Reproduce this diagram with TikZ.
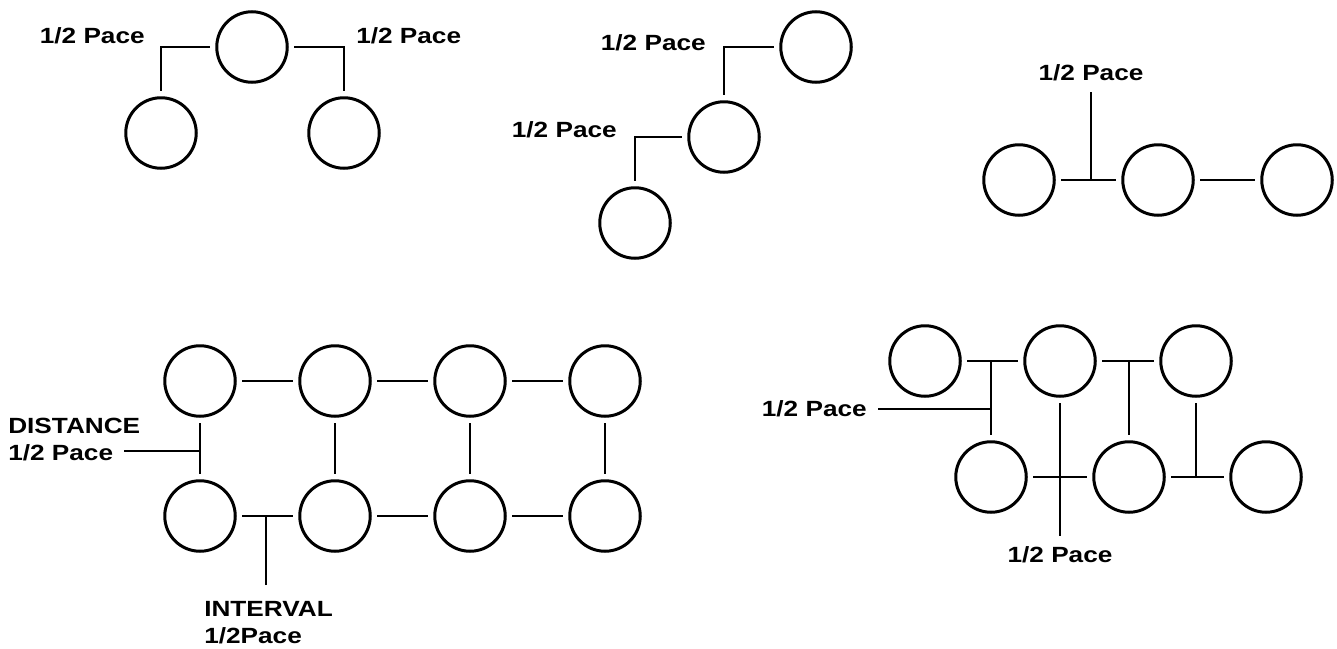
\documentclass[tikz,border=0pt]{standalone}
\usepackage{fontspec}
\newfontfamily\pacefont{Liberation Sans}[FakeStretch=1.19]
\usetikzlibrary{positioning,calc}
\tikzset{
  marcher/.style={circle,draw,line width=3pt,minimum size=70.5pt,inner sep=0pt,outer sep=7pt},
  pace/.style={font=\pacefont\bfseries\fontsize{22}{27}\selectfont,inner sep=0pt,align=left},
}

\begin{document}
\begin{tikzpicture}[x=1pt,y=-1pt,line width=2.6pt]
\useasboundingbox (0,0) rectangle (1337,648);

\node[marcher] (a1) at (252,47) {};
\node[marcher] (a2) at (161,133) {};
\node[marcher] (a3) at (344,133) {};
\draw (a1) -| (a2);
\draw (a1) -| (a3);
\node[pace,anchor=east] at (146,36) {1/2 Pace};
\node[pace,anchor=west] at (355,36) {1/2 Pace};

\node[marcher] (b1) at (816,47) {};
\node[marcher] (b2) at (724,137) {};
\node[marcher] (b3) at (635,223) {};
\draw (b1) -| (b2);
\draw (b2) -| (b3);
\node[pace,anchor=east] at (707,43) {1/2 Pace};
\node[pace,anchor=east] at (618,130) {1/2 Pace};

\node[marcher] (c1) at (1019,180) {};
\node[marcher] (c2) at (1158,180) {};
\node[marcher] (c3) at (1297,180) {};
\draw (c1) -- (c2);
\draw (c2) -- (c3);
\node[pace] (c0) at (1091,73) {1/2 Pace};
\draw[shorten <=10pt] (c0) -- (c0 |- c1);

\foreach \i/\x in {1/200,2/335,3/470,4/605}{
  \node[marcher] (d\i) at (\x,381) {};
  \node[marcher] (e\i) at (\x,516) {};
  \draw (d\i) -- (e\i);
}
\foreach \i/\j in {1/2,2/3,3/4}{
  \draw (d\i) -- (d\j);
  \draw (e\i) -- (e\j);
}
\node[pace,anchor=west] at (7,440) {DISTANCE\\1/2 Pace};
\coordinate (dd) at (124,451);
\draw (dd) -- (dd -| d1);
\node[pace,anchor=west] at (203,623) {INTERVAL\\1/2Pace};
\coordinate (ee) at (266,585);
\draw (ee) -- (ee |- e1);

\node[marcher] (f1) at (925,361) {};
\node[marcher] (f2) at (1060,361) {};
\node[marcher] (f3) at (1196,361) {};
\node[marcher] (g1) at (991,477) {};
\node[marcher] (g2) at (1129,477) {};
\node[marcher] (g3) at (1266,477) {};
\draw (f1) -- (f2);
\draw (f2) -- (f3);
\draw (g1) -- (g2);
\draw (g2) -- (g3);
\draw (g1) -- (g1 |- f1);
\draw (g2) -- (g2 |- f2);
\draw (f3) -- (f3 |- g3);
\node[pace,anchor=east] (f0) at (868,409) {1/2 Pace};
\draw[shorten <=10pt] (f0) -- (f0 -| g1);
\node[pace] (g0) at (1060,555) {1/2 Pace};
\draw[shorten >=10pt] (f2) -- (g0);

\end{tikzpicture}
\end{document}
